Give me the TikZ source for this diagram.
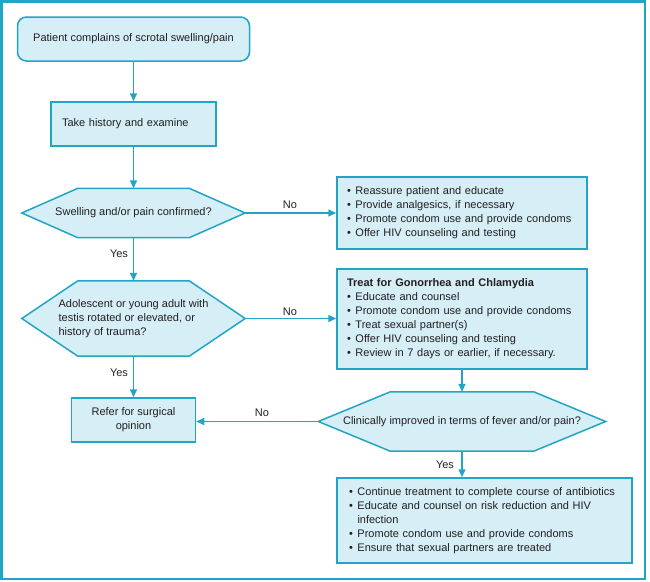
\documentclass[tikz,border=0pt]{standalone}
\usepackage{fontspec}
\setmainfont{Liberation Sans}
\usetikzlibrary{arrows.meta,calc,backgrounds}
\definecolor{teal1}{HTML}{22A5C5}
\definecolor{fillb}{HTML}{D6EEF6}
\definecolor{txt}{HTML}{231F20}
\newcommand{\bul}{\makebox[8.5pt][l]{\textbullet}}
\newcommand{\hexshape}[2]{%
  \path[hexline] (#1.west) -- ($(#1.north west)+(#2,0)$) -- ($(#1.north east)+(-#2,0)$) -- (#1.east)
    -- ($(#1.south east)+(-#2,0)$) -- ($(#1.south west)+(#2,0)$) -- cycle;}
\begin{document}
\begin{tikzpicture}[x=1pt,y=-1pt, font=\fontsize{11}{14}\selectfont, text=txt,
  box/.style={draw=teal1, fill=fillb, line width=1.5pt, inner ysep=0pt},
  hexnode/.style={inner sep=0pt},
  hexline/.style={draw=teal1, fill=fillb, line width=1.5pt, line join=miter},
  conn/.style={draw=teal1, line width=1.5pt, -{Triangle[length=8pt,width=7pt]}},
  lbl/.style={inner sep=1pt}]
\useasboundingbox (0,0) rectangle (650,581);
\draw[teal1, line width=2.5pt] (1.5,1.5) rectangle (645,579);

\node[box, rounded corners=9pt, minimum width=232pt, minimum height=44pt] (start) at (133.5,39) {Patient complains of scrotal swelling/pain};
\node[box, minimum width=165pt, minimum height=44pt, text width=143pt, inner xsep=11pt, align=left] (hist) at (133.5,124) {Take history and examine};

\node[hexnode, minimum width=223pt, minimum height=49pt] (d1) at (133.5,213) {Swelling and/or pain confirmed?};
\node[hexnode, minimum width=223pt, minimum height=75pt, align=left] (d2) at (133.5,318.5) {Adolescent or young adult with\\testis rotated or elevated, or\\history of trauma?};
\node[hexnode, minimum width=287pt, minimum height=59pt] (d3) at (462,421.5) {Clinically improved in terms of fever and/or pain?};
\begin{scope}[on background layer]
\hexshape{d1}{56}
\hexshape{d2}{56}
\hexshape{d3}{72}
\end{scope}

\node[box, minimum width=250pt, minimum height=72pt, text width=230pt, inner xsep=10pt, align=left] (b3) at (462,213)
 {\bul Reassure patient and educate\\\bul Provide analgesics, if necessary\\\bul Promote condom use and provide condoms\\\bul Offer HIV counseling and testing};
\node[box, minimum width=250pt, minimum height=100pt, text width=230pt, inner xsep=10pt, align=left] (b4) at (462,319)
 {\textbf{Treat for Gonorrhea and Chlamydia}\\\bul Educate and counsel\\\bul Promote condom use and provide condoms\\\bul Treat sexual partner(s)\\\bul Offer HIV counseling and testing\\\bul Review in 7 days or earlier, if necessary.};
\node[box, minimum width=124pt, minimum height=44pt, align=center] (refer) at (133.5,420) {Refer for surgical\\opinion};
\node[box, minimum width=295pt, minimum height=85pt, text width=271pt, inner xsep=12pt, align=left] (b5) at (484.5,520.5)
 {\bul Continue treatment to complete course of antibiotics\\\bul Educate and counsel on risk reduction and HIV\\\hspace*{8.5pt}infection\\\bul Promote condom use and provide condoms\\\bul Ensure that sexual partners are treated};

\draw[conn] (start) -- (hist);
\draw[conn] (hist) -- (d1.north);
\draw[conn] (d1.east) -- (d1.east -| b3.west);
\draw[conn] (d1.south) -- (d2.north);
\draw[conn] (d2.east) -- (d2.east -| b4.west);
\draw[conn] (d2.south) -- (refer.north);
\draw[conn] (b4.south) -- (d3.north);
\draw[conn] (d3.west) -- (d3.west -| refer.east);
\draw[conn] (d3.south) -- (d3.south |- b5.north);

\node[lbl] (no1) at (290,205) {No};
\node[lbl] (yes1) at (119,254) {Yes};
\node[lbl] (no2) at (290,312) {No};
\node[lbl] (yes2) at (119,373) {Yes};
\node[lbl] (no3) at (262,413) {No};
\node[lbl] (yes3) at (445,465) {Yes};
\end{tikzpicture}
\end{document}
